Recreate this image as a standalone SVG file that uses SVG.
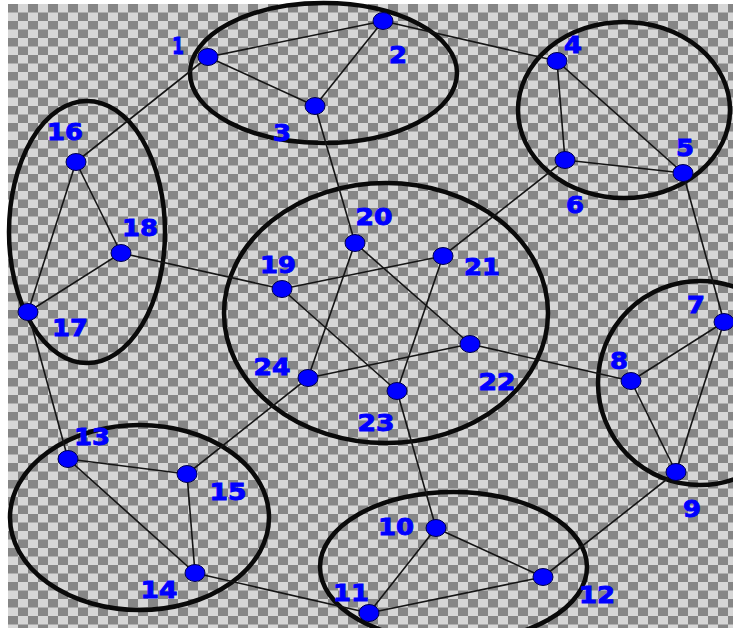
<svg xmlns="http://www.w3.org/2000/svg" width="733" height="628" viewBox="0 0 733 628">
<defs>
<pattern id="chk" x="8" y="4" width="20" height="17" patternUnits="userSpaceOnUse">
<rect width="20" height="17" fill="#d6d6d6"/>
<rect width="10" height="8.5" fill="#868686"/>
<rect x="10" y="8.5" width="10" height="8.5" fill="#868686"/>
</pattern>
<style>
.cl{fill:none;stroke:#0a0a0a;stroke-width:4.5}
.e{stroke:#151515;stroke-width:1.6;fill:none}
.n{fill:#0000ff;stroke:#000050;stroke-width:1}
.t{fill:#0000ff;stroke:#0000ff;stroke-width:0.9;font-family:"DejaVu Sans",sans-serif;font-weight:bold;font-size:23px;text-anchor:middle}
</style>
</defs>
<rect width="733" height="628" fill="#ffffff"/>
<rect x="8" y="4" width="725" height="624" fill="url(#chk)"/>
<g id="clusters">
<ellipse class="cl" cx="323.5" cy="73" rx="133.5" ry="70"/>
<ellipse class="cl" cx="624" cy="110" rx="106" ry="88"/>
<ellipse class="cl" cx="87" cy="232" rx="78" ry="131"/>
<ellipse class="cl" cx="386" cy="313" rx="162" ry="130"/>
<ellipse class="cl" cx="700" cy="383" rx="102" ry="102"/>
<ellipse class="cl" cx="139.5" cy="517.5" rx="129.5" ry="92.5"/>
<ellipse class="cl" cx="453.5" cy="567" rx="133.5" ry="75"/>
</g>
<g id="edges">
<line class="e" x1="208" y1="57" x2="383" y2="21"/>
<line class="e" x1="208" y1="57" x2="315" y2="106"/>
<line class="e" x1="383" y1="21" x2="315" y2="106"/>
<line class="e" x1="383" y1="21" x2="557" y2="61"/>
<line class="e" x1="208" y1="57" x2="76" y2="162"/>
<line class="e" x1="315" y1="106" x2="355" y2="243"/>
<line class="e" x1="557" y1="61" x2="683" y2="173"/>
<line class="e" x1="557" y1="61" x2="565" y2="160"/>
<line class="e" x1="565" y1="160" x2="683" y2="173"/>
<line class="e" x1="565" y1="160" x2="443" y2="256"/>
<line class="e" x1="683" y1="173" x2="724" y2="322"/>
<line class="e" x1="724" y1="322" x2="631" y2="381"/>
<line class="e" x1="724" y1="322" x2="676" y2="472"/>
<line class="e" x1="631" y1="381" x2="676" y2="472"/>
<line class="e" x1="631" y1="381" x2="470" y2="344"/>
<line class="e" x1="676" y1="472" x2="543" y2="577"/>
<line class="e" x1="436" y1="528" x2="543" y2="577"/>
<line class="e" x1="436" y1="528" x2="369" y2="613"/>
<line class="e" x1="369" y1="613" x2="543" y2="577"/>
<line class="e" x1="436" y1="528" x2="397" y2="391"/>
<line class="e" x1="369" y1="613" x2="195" y2="573"/>
<line class="e" x1="68" y1="459" x2="187" y2="474"/>
<line class="e" x1="68" y1="459" x2="195" y2="573"/>
<line class="e" x1="187" y1="474" x2="195" y2="573"/>
<line class="e" x1="187" y1="474" x2="308" y2="378"/>
<line class="e" x1="68" y1="459" x2="28" y2="312"/>
<line class="e" x1="76" y1="162" x2="28" y2="312"/>
<line class="e" x1="76" y1="162" x2="121" y2="253"/>
<line class="e" x1="121" y1="253" x2="28" y2="312"/>
<line class="e" x1="121" y1="253" x2="282" y2="289"/>
<line class="e" x1="282" y1="289" x2="443" y2="256"/>
<line class="e" x1="282" y1="289" x2="397" y2="391"/>
<line class="e" x1="355" y1="243" x2="308" y2="378"/>
<line class="e" x1="355" y1="243" x2="470" y2="344"/>
<line class="e" x1="443" y1="256" x2="397" y2="391"/>
<line class="e" x1="470" y1="344" x2="308" y2="378"/>
</g>
<g id="node1"><ellipse class="n" cx="208" cy="57" rx="10" ry="8.5"/><text class="t" x="178" y="54" textLength="12" lengthAdjust="spacingAndGlyphs">1</text></g>
<g id="node2"><ellipse class="n" cx="383" cy="21" rx="10" ry="8.5"/><text class="t" x="398" y="63" textLength="18" lengthAdjust="spacingAndGlyphs">2</text></g>
<g id="node3"><ellipse class="n" cx="315" cy="106" rx="10" ry="8.5"/><text class="t" x="282" y="141" textLength="18" lengthAdjust="spacingAndGlyphs">3</text></g>
<g id="node4"><ellipse class="n" cx="557" cy="61" rx="10" ry="8.5"/><text class="t" x="573" y="53" textLength="18" lengthAdjust="spacingAndGlyphs">4</text></g>
<g id="node5"><ellipse class="n" cx="683" cy="173" rx="10" ry="8.5"/><text class="t" x="685" y="156" textLength="18" lengthAdjust="spacingAndGlyphs">5</text></g>
<g id="node6"><ellipse class="n" cx="565" cy="160" rx="10" ry="8.5"/><text class="t" x="575" y="213" textLength="18" lengthAdjust="spacingAndGlyphs">6</text></g>
<g id="node7"><ellipse class="n" cx="724" cy="322" rx="10" ry="8.5"/><text class="t" x="696" y="313" textLength="18" lengthAdjust="spacingAndGlyphs">7</text></g>
<g id="node8"><ellipse class="n" cx="631" cy="381" rx="10" ry="8.5"/><text class="t" x="619" y="369" textLength="18" lengthAdjust="spacingAndGlyphs">8</text></g>
<g id="node9"><ellipse class="n" cx="676" cy="472" rx="10" ry="8.5"/><text class="t" x="692" y="517" textLength="18" lengthAdjust="spacingAndGlyphs">9</text></g>
<g id="node10"><ellipse class="n" cx="436" cy="528" rx="10" ry="8.5"/><text class="t" x="396" y="535" textLength="36" lengthAdjust="spacingAndGlyphs">10</text></g>
<g id="node11"><ellipse class="n" cx="369" cy="613" rx="10" ry="8.5"/><text class="t" x="351" y="601" textLength="36" lengthAdjust="spacingAndGlyphs">11</text></g>
<g id="node12"><ellipse class="n" cx="543" cy="577" rx="10" ry="8.5"/><text class="t" x="597" y="603" textLength="36" lengthAdjust="spacingAndGlyphs">12</text></g>
<g id="node13"><ellipse class="n" cx="68" cy="459" rx="10" ry="8.5"/><text class="t" x="92" y="445" textLength="36" lengthAdjust="spacingAndGlyphs">13</text></g>
<g id="node14"><ellipse class="n" cx="195" cy="573" rx="10" ry="8.5"/><text class="t" x="159" y="598" textLength="37" lengthAdjust="spacingAndGlyphs">14</text></g>
<g id="node15"><ellipse class="n" cx="187" cy="474" rx="10" ry="8.5"/><text class="t" x="228" y="500" textLength="37" lengthAdjust="spacingAndGlyphs">15</text></g>
<g id="node16"><ellipse class="n" cx="76" cy="162" rx="10" ry="8.5"/><text class="t" x="65" y="140" textLength="36" lengthAdjust="spacingAndGlyphs">16</text></g>
<g id="node17"><ellipse class="n" cx="28" cy="312" rx="10" ry="8.5"/><text class="t" x="70" y="336" textLength="36" lengthAdjust="spacingAndGlyphs">17</text></g>
<g id="node18"><ellipse class="n" cx="121" cy="253" rx="10" ry="8.5"/><text class="t" x="140" y="236" textLength="36" lengthAdjust="spacingAndGlyphs">18</text></g>
<g id="node19"><ellipse class="n" cx="282" cy="289" rx="10" ry="8.5"/><text class="t" x="278" y="273" textLength="36" lengthAdjust="spacingAndGlyphs">19</text></g>
<g id="node20"><ellipse class="n" cx="355" cy="243" rx="10" ry="8.5"/><text class="t" x="374" y="225" textLength="37" lengthAdjust="spacingAndGlyphs">20</text></g>
<g id="node21"><ellipse class="n" cx="443" cy="256" rx="10" ry="8.5"/><text class="t" x="482" y="275" textLength="36" lengthAdjust="spacingAndGlyphs">21</text></g>
<g id="node22"><ellipse class="n" cx="470" cy="344" rx="10" ry="8.5"/><text class="t" x="497" y="390" textLength="37" lengthAdjust="spacingAndGlyphs">22</text></g>
<g id="node23"><ellipse class="n" cx="397" cy="391" rx="10" ry="8.5"/><text class="t" x="376" y="431" textLength="37" lengthAdjust="spacingAndGlyphs">23</text></g>
<g id="node24"><ellipse class="n" cx="308" cy="378" rx="10" ry="8.5"/><text class="t" x="272" y="375" textLength="37" lengthAdjust="spacingAndGlyphs">24</text></g>
</svg>
